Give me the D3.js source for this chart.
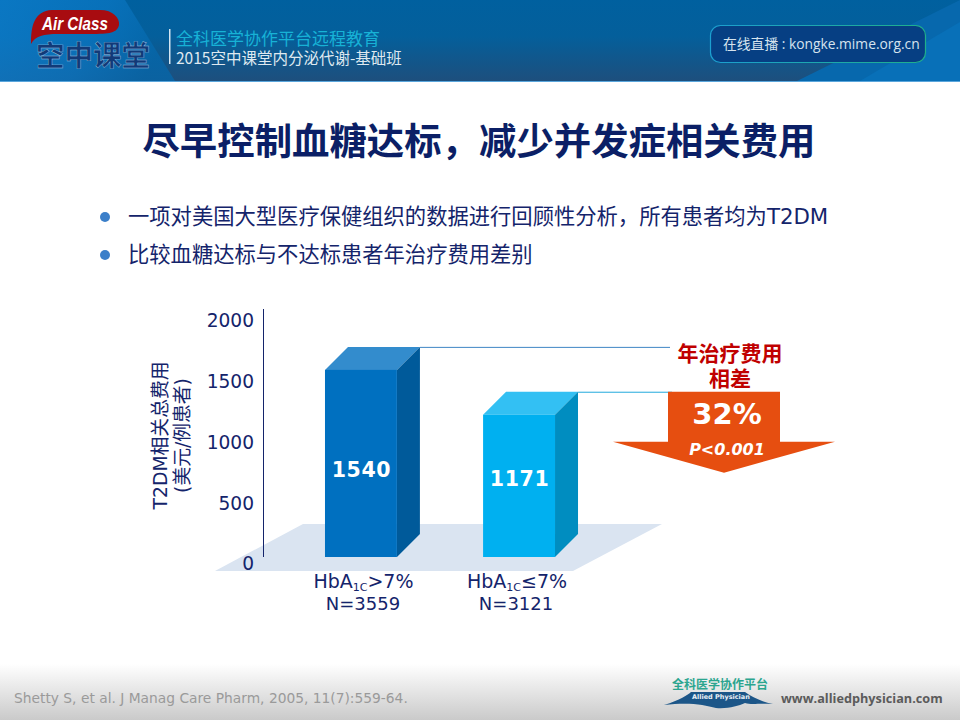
<!DOCTYPE html>
<html>
<head>
<meta charset="utf-8">
<script src="https://cdnjs.cloudflare.com/ajax/libs/d3/7.8.5/d3.min.js"></script>
<style>
  html, body { margin: 0; padding: 0; background: #fff; }
  svg { display: block; }
  text { font-family: "DejaVu Sans", "Noto Sans CJK SC", sans-serif; }
  .cjk { font-family: "Noto Sans CJK SC", sans-serif; }
</style>
</head>
<body>
<svg id="chart" width="960" height="720"></svg>
<script>
const categories = ['HbA1C>7%', 'HbA1C≤7%'];
const categoryPrefix = ['HbA', 'HbA'];
const categorySub = ['1C', '1C'];
const categorySuffix = ['>7%', '≤7%'];
const sampleSizes = ['N=3559', 'N=3121'];
const costs = [1540, 1171];
const yTicks = [0, 500, 1000, 1500, 2000];
const bullets = [
  '一项对美国大型医疗保健组织的数据进行回顾性分析，所有患者均为T2DM',
  '比较血糖达标与不达标患者年治疗费用差别'
];

const navy = '#14246b';
const frontColors = ['#0070c0', '#00b0f0'];
const topColors = ['#338ccd', '#33c0f3'];
const sideColors = ['#005a9a', '#008dc0'];
const lineColors = ['#3f86c4', '#22a9dd'];

const svg = d3.select('#chart');
const defs = svg.append('defs');

function linear(id, x2, y2, stops) {
  const g = defs.append('linearGradient').attr('id', id)
    .attr('x1', 0).attr('y1', 0).attr('x2', x2).attr('y2', y2);
  stops.forEach(s => g.append('stop').attr('offset', s[0]).attr('stop-color', s[1]));
}
linear('headV', 0, 1, [[0, '#00609f'], [0.45, '#045f9b'], [1, '#1d4f7d']]);
linear('headL', 1, 0.25, [[0, '#0d7fcf'], [0.6, '#0a76c2'], [1, '#0568ac']]);
linear('foot', 0, 1, [[0, '#ffffff'], [1, '#cacaca']]);
linear('boxStroke', 1, 0, [[0, '#1c9fd0'], [1, '#1fb08a']]);

// header
svg.append('rect').attr('width', 960).attr('height', 81).attr('fill', 'url(#headV)');
svg.append('path').attr('d', 'M0,0H125L175,81H0Z').attr('fill', 'url(#headL)').attr('opacity', 0.75);
svg.append('path').attr('d', 'M960,0V81H797Z').attr('fill', '#0768ad');
svg.append('path').attr('d', 'M960,22V81H860Z').attr('fill', '#0870b8');
svg.append('rect').attr('y', 81).attr('width', 960).attr('height', 1).attr('fill', '#5aa6dc');

svg.append('path')
  .attr('d', 'M31,44C31,26 34,11 52,10H100C113,10 120,18 119,25C117,33 110,34 90,34H58C44,34 35,36 31,44Z')
  .attr('fill', '#a80c10');
svg.append('text').attr('x', 42).attr('y', 30)
  .attr('font-size', 18).attr('font-weight', 'bold').attr('font-style', 'italic')
  .attr('textLength', 66).attr('lengthAdjust', 'spacingAndGlyphs')
  .attr('fill', '#fff').style('font-family', '"Liberation Sans"').text('Air Class');
svg.append('text').attr('class', 'cjk').attr('x', 36).attr('y', 66)
  .attr('font-size', 28.5).attr('font-weight', 'bold').attr('fill', '#123a77')
  .attr('stroke', '#9fc4e2').attr('stroke-width', 0.4).text('空中课堂');

svg.append('rect').attr('x', 169).attr('y', 29).attr('width', 1.5).attr('height', 35).attr('fill', '#d5e6f2');
svg.append('text').attr('class', 'cjk').attr('x', 176).attr('y', 45)
  .attr('font-size', 17).attr('fill', '#17b2d6').text('全科医学协作平台远程教育');
svg.append('text').attr('class', 'cjk').attr('x', 176).attr('y', 64)
  .attr('font-size', 15.5).attr('fill', '#dfe9f0').text('2015空中课堂内分泌代谢-基础班');

svg.append('rect').attr('x', 710.5).attr('y', 25.5).attr('width', 215).attr('height', 37).attr('rx', 10)
  .attr('fill', '#063f83').attr('stroke', 'url(#boxStroke)').attr('stroke-width', 1.2);
svg.append('text').attr('x', 723).attr('y', 49).attr('font-size', 13.8).attr('fill', '#d5e3ee')
  .style('font-family', '"Open Sans", "Noto Sans CJK SC"')
  .text('在线直播 : kongke.mime.org.cn');

// title and bullets
svg.append('text').attr('class', 'cjk').attr('x', 479).attr('y', 155).attr('text-anchor', 'middle')
  .attr('font-size', 37.4).attr('font-weight', 'bold').attr('fill', '#0b1f66')
  .text('尽早控制血糖达标，减少并发症相关费用');

const bulletY = d3.scalePoint().domain(bullets).range([217, 255]);
svg.selectAll('circle.bullet').data(bullets).enter().append('circle').attr('class', 'bullet')
  .attr('cx', 105).attr('cy', d => bulletY(d)).attr('r', 5).attr('fill', '#3b7fc9');
svg.selectAll('text.bullet').data(bullets).enter().append('text').attr('class', 'bullet')
  .attr('x', 128).attr('y', d => bulletY(d) + 7)
  .attr('font-size', 21.3).attr('fill', navy).text(d => d);

// chart
const y = d3.scaleLinear().domain([0, 2000]).range([557, 314]);
const x = d3.scaleBand().domain(categories).range([281.5, 598.5]).paddingInner(0.545).paddingOuter(0.275);
const depth = 23;

const bandLeft = x(categories[0]);
svg.append('path')
  .attr('d', d3.line()([
    [bandLeft - 110, y(0) + 14],
    [bandLeft - 22, y(0) - 33],
    [bandLeft + 337, y(0) - 33],
    [bandLeft + 248, y(0) + 14]
  ]) + 'Z')
  .attr('fill', '#dae4f1');

const yAxis = d3.axisLeft(y).tickValues(yTicks).tickSize(0).tickPadding(9).tickFormat(d3.format('d'));
const yG = svg.append('g').attr('transform', 'translate(263,0)').call(yAxis);
yG.select('.domain').remove();
yG.selectAll('text').attr('dy', '0.32em').attr('y', 7).attr('font-size', 18.6).attr('fill', navy)
  .style('font-family', '"DejaVu Sans"');
svg.append('line').attr('x1', 263.5).attr('x2', 263.5).attr('y1', 309).attr('y2', y(0))
  .attr('stroke', '#14246b').attr('stroke-width', 1);

// lines from the bars to the arrow
const lineEnds = [670, 672];
svg.selectAll('line.link').data(costs).enter().append('line').attr('class', 'link')
  .attr('x1', (d, i) => x(categories[i]) + x.bandwidth() + depth)
  .attr('x2', (d, i) => lineEnds[i])
  .attr('y1', d => y(d) - depth + 0.5)
  .attr('y2', d => y(d) - depth + 0.5)
  .attr('stroke', (d, i) => lineColors[i]).attr('stroke-width', 1);

const bars = svg.selectAll('g.bar').data(costs).enter().append('g').attr('class', 'bar');
const w = x.bandwidth();
bars.append('path')
  .attr('d', (d, i) => {
    const l = x(categories[i]), t = y(d);
    return d3.line()([[l, t], [l + depth, t - depth], [l + w + depth, t - depth], [l + w, t]]) + 'Z';
  })
  .attr('fill', (d, i) => topColors[i]);
bars.append('path')
  .attr('d', (d, i) => {
    const r = x(categories[i]) + w, t = y(d), b = y(0);
    return d3.line()([[r, t], [r + depth, t - depth], [r + depth, b - depth], [r, b]]) + 'Z';
  })
  .attr('fill', (d, i) => sideColors[i]);
bars.append('rect')
  .attr('x', (d, i) => x(categories[i]))
  .attr('y', d => y(d))
  .attr('width', w)
  .attr('height', d => y(0) - y(d))
  .attr('fill', (d, i) => frontColors[i]);
bars.append('text')
  .attr('x', (d, i) => x(categories[i]) + w / 2 + 0.5)
  .attr('y', 470).attr('dy', '0.36em').attr('text-anchor', 'middle')
  .attr('font-size', 20.5).attr('font-weight', 'bold').attr('letter-spacing', 0.6).attr('fill', '#fff')
  .attr('transform', (d, i) => 'translate(0,' + (i * 9) + ')')
  .text(d => d);

// category labels
const catText = svg.selectAll('text.cat').data(categories).enter().append('text').attr('class', 'cat')
  .attr('x', d => x(d) + w / 2 + (d === categories[1] ? -2 : 2.5)).attr('y', 588)
  .attr('text-anchor', 'middle').attr('font-size', 19).attr('fill', navy);
catText.append('tspan').text((d, i) => categoryPrefix[i]);
catText.append('tspan').attr('font-size', 11).attr('dy', 3).text((d, i) => categorySub[i]);
catText.append('tspan').attr('dy', -3).text((d, i) => categorySuffix[i]);
svg.selectAll('text.n').data(sampleSizes).enter().append('text').attr('class', 'n')
  .attr('x', (d, i) => x(categories[i]) + w / 2 + (i ? -3 : 2)).attr('y', 610)
  .attr('text-anchor', 'middle').attr('font-size', 18).attr('fill', navy).text(d => d);

// y title
const yTitle = svg.append('g').attr('transform', 'translate(167,435.5) rotate(-90)')
  .attr('text-anchor', 'middle').attr('fill', navy).attr('font-size', 18.8);
yTitle.append('text').attr('y', 0).text('T2DM相关总费用');
yTitle.append('text').attr('y', 22).text('(美元/例患者)');

// difference arrow
const arrowTop = y(costs[1]) - depth;
svg.append('path')
  .attr('d', d3.line()([
    [668, arrowTop], [780, arrowTop], [780, arrowTop + 50], [835, arrowTop + 50],
    [724, arrowTop + 81], [613, arrowTop + 50], [668, arrowTop + 50]
  ]) + 'Z')
  .attr('fill', '#e64e10');
svg.append('text').attr('class', 'cjk').attr('x', 730).attr('y', 361).attr('text-anchor', 'middle')
  .attr('font-size', 21).attr('font-weight', 'bold').attr('fill', '#c00000').text('年治疗费用');
svg.append('text').attr('class', 'cjk').attr('x', 730).attr('y', 386).attr('text-anchor', 'middle')
  .attr('font-size', 21).attr('font-weight', 'bold').attr('fill', '#c00000').text('相差');
svg.append('text').attr('x', 727).attr('y', 424).attr('text-anchor', 'middle')
  .attr('font-size', 29).attr('font-weight', 'bold').attr('fill', '#fff').text('32%');
svg.append('text').attr('x', 727).attr('y', 455).attr('text-anchor', 'middle')
  .attr('font-size', 16).attr('font-weight', 'bold').attr('font-style', 'italic').attr('fill', '#fff').text('P<0.001');

// footer
svg.append('rect').attr('y', 664).attr('width', 960).attr('height', 56).attr('fill', 'url(#foot)');
svg.append('text').attr('x', 14).attr('y', 703).attr('font-size', 13.8).attr('fill', '#9a9a9a')
  .text('Shetty S, et al. J Manag Care Pharm, 2005, 11(7):559-64.');
svg.append('text').attr('class', 'cjk').attr('x', 672).attr('y', 689).attr('font-size', 12)
  .attr('font-weight', 'bold').attr('fill', '#2ba58f').text('全科医学协作平台');
svg.append('path')
  .attr('d', 'M664,705C680,700 688,695 691,692H745C752,697 762,702 773,704C758,703 752,705 745,703C738,706 728,709 716,708C704,705 690,702 664,705Z')
  .attr('fill', '#1c5688');
svg.append('text').attr('x', 692).attr('y', 699).attr('font-size', 6.5).attr('font-weight', 'bold')
  .attr('fill', '#e8f0f6').text('Allied Physician');
svg.append('text').attr('x', 781).attr('y', 703).attr('font-size', 12.7).attr('font-weight', 'bold')
  .attr('fill', '#5b5b5b').style('font-family', '"Open Sans"').text('www.alliedphysician.com');
</script>
</body>
</html>
